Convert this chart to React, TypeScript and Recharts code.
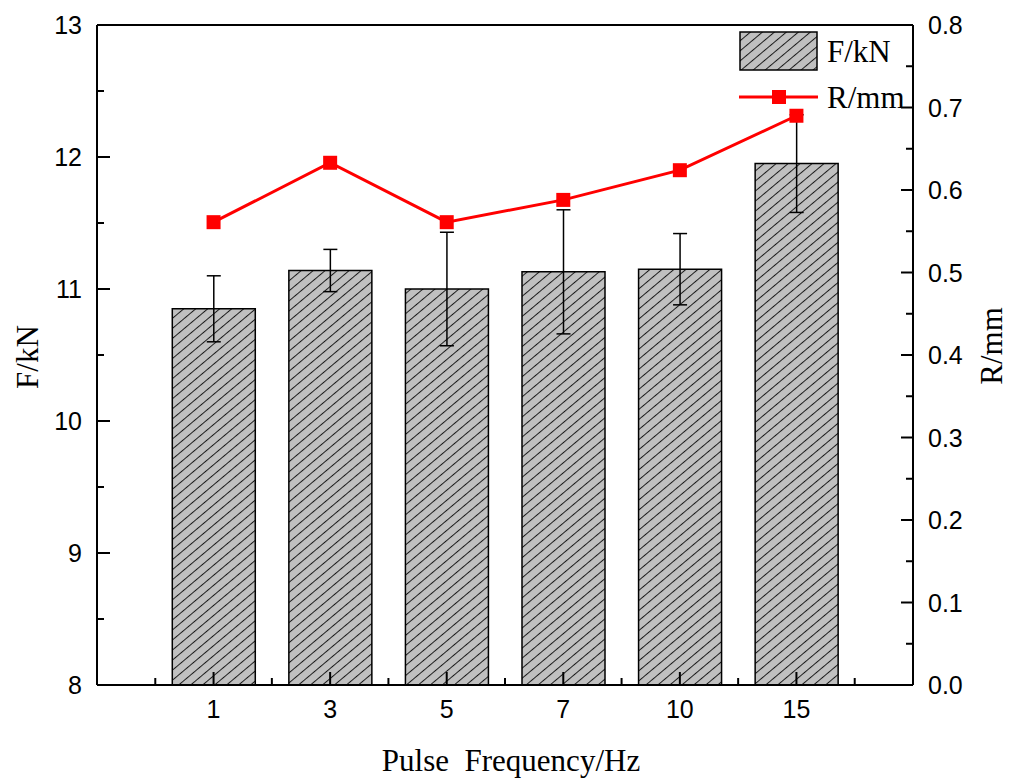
import React from "react"
import {
  ComposedChart,
  Bar,
  Line,
  XAxis,
  YAxis,
  ErrorBar,
  ReferenceLine,
  Legend,
  Label,
} from "recharts"

// pulse frequency categories (Hz) and measured values
const FREQ = ["1", "3", "5", "7", "10", "15"]
const FORCE = [10.85, 11.14, 11.0, 11.13, 11.15, 11.95]
const FORCE_ERR = [0.25, 0.16, 0.43, 0.47, 0.27, 0.37]
const RADIUS = [0.561, 0.633, 0.561, 0.588, 0.624, 0.69]

const X_TICKS = [0.5, 1, 1.5, 2, 2.5, 3, 3.5, 4, 4.5, 5, 5.5, 6, 6.5]
const F_TICKS = [8, 8.5, 9, 9.5, 10, 10.5, 11, 11.5, 12, 12.5, 13]
const R_TICKS = [0, 0.05, 0.1, 0.15, 0.2, 0.25, 0.3, 0.35, 0.4, 0.45, 0.5, 0.55, 0.6, 0.65, 0.7, 0.75, 0.8]

const data = FREQ.map((f, i) => ({
  pos: i + 1,
  freq: f,
  f: FORCE[i],
  fErr: FORCE_ERR[i],
  r: RADIUS[i],
}))

const SANS = "'Liberation Sans', Arial, sans-serif"
const SERIF = "'Liberation Serif', 'Times New Roman', serif"
const TICK_FONT = 25
const TITLE_FONT = 31
const MARGIN = 15

const LeftTick = (props: any) => {
  const { x, y, payload } = props
  const v = payload.value as number
  const major = Number.isInteger(v)
  const ax = x + MARGIN
  return (
    <g>
      <line x1={ax} x2={ax + (major ? 13 : 7)} y1={y} y2={y} stroke="#000" strokeWidth={2} />
      {major && (
        <text x={x} y={y} textAnchor="end" dy="0.36em" fontFamily={SANS} fontSize={TICK_FONT} fill="#000">
          {v}
        </text>
      )}
    </g>
  )
}

const RightTick = (props: any) => {
  const { x, y, payload } = props
  const v = payload.value as number
  const major = Math.round(v * 100) % 10 === 0
  const ax = x - MARGIN
  return (
    <g>
      <line x1={ax} x2={ax - (major ? 12 : 7)} y1={y} y2={y} stroke="#000" strokeWidth={2} />
      {major && (
        <text x={x} y={y} textAnchor="start" dy="0.36em" fontFamily={SANS} fontSize={TICK_FONT} fill="#000">
          {v.toFixed(1)}
        </text>
      )}
    </g>
  )
}

const BottomTick = (props: any) => {
  const { x, y, payload } = props
  const v = payload.value as number
  const major = Number.isInteger(v)
  const ay = y - MARGIN
  return (
    <g>
      <line x1={x} x2={x} y1={ay} y2={ay - (major ? 13 : 7)} stroke="#000" strokeWidth={2} />
      {major && (
        <text x={x} y={y} textAnchor="middle" dy="0.72em" fontFamily={SANS} fontSize={TICK_FONT} fill="#000">
          {FREQ[v - 1]}
        </text>
      )}
    </g>
  )
}

const SquareDot = (props: any) => {
  const { cx, cy, index } = props
  return <rect key={`dot-${index}`} x={cx - 7} y={cy - 7} width={14} height={14} fill="#ff0000" />
}

const renderLegend = () => (
  <div style={{ fontFamily: SERIF, fontSize: TITLE_FONT, color: "#000", lineHeight: 1 }}>
    <div style={{ display: "flex", alignItems: "center", height: 42 }}>
      <svg width={79} height={40}>
        <rect x={1} y={1} width={77} height={38} fill="url(#hatch)" stroke="#000" strokeWidth={1.5} />
      </svg>
      <span style={{ marginLeft: 9 }}>F/kN</span>
    </div>
    <div style={{ display: "flex", alignItems: "center", height: 50 }}>
      <svg width={79} height={20}>
        <line x1={0} x2={79} y1={10} y2={10} stroke="#ff0000" strokeWidth={3} />
        <rect x={33} y={3} width={14} height={14} fill="#ff0000" />
      </svg>
      <span style={{ marginLeft: 9 }}>R/mm</span>
    </div>
  </div>
)

export default function App() {
  return (
    <div style={{ position: "absolute", left: 0, top: 0, background: "#fff" }}>
      <ComposedChart
        width={1009}
        height={778}
        data={data}
        margin={{ top: 25, right: 16, bottom: 0, left: 17 }}
      >
        <defs>
          <pattern id="hatch" width="7.7" height="7.7" patternUnits="userSpaceOnUse" patternTransform="rotate(50)">
            <rect width="7.7" height="7.7" fill="#c0c0c0" />
            <line x1="0.5" y1="0" x2="0.5" y2="7.7" stroke="#1a1a1a" strokeWidth="1" />
          </pattern>
        </defs>
        <XAxis
          dataKey="pos"
          type="number"
          domain={[0, 7]}
          ticks={X_TICKS}
          interval={0}
          height={93}
          tickSize={0}
          tickMargin={MARGIN}
          tick={<BottomTick />}
          axisLine={{ stroke: "#000", strokeWidth: 2 }}
        >
          <Label
            content={(p: any) => {
              const vb = p.viewBox
              return (
                <text
                  x={vb.x + vb.width / 2 + 6}
                  y={vb.y + 86}
                  textAnchor="middle"
                  fontFamily={SERIF}
                  fontSize={TITLE_FONT}
                  fill="#000"
                  style={{ whiteSpace: "pre" }}
                >
                  Pulse  Frequency/Hz
                </text>
              )
            }}
          />
        </XAxis>
        <YAxis
          yAxisId="f"
          orientation="left"
          width={80}
          domain={[8, 13]}
          ticks={F_TICKS}
          interval={0}
          allowDataOverflow
          tickSize={0}
          tickMargin={MARGIN}
          tick={<LeftTick />}
          axisLine={{ stroke: "#000", strokeWidth: 2 }}
        >
          <Label
            content={(p: any) => {
              const vb = p.viewBox
              const cx = vb.x + 10
              const cy = vb.y + vb.height / 2 + 2
              return (
                <text
                  x={cx}
                  y={cy}
                  textAnchor="middle"
                  dy="0.35em"
                  transform={`rotate(-90 ${cx} ${cy})`}
                  fontFamily={SERIF}
                  fontSize={TITLE_FONT}
                  fill="#000"
                >
                  F/kN
                </text>
              )
            }}
          />
        </YAxis>
        <YAxis
          yAxisId="r"
          orientation="right"
          width={80}
          domain={[0, 0.8]}
          ticks={R_TICKS}
          interval={0}
          allowDataOverflow
          tickSize={0}
          tickMargin={MARGIN}
          tick={<RightTick />}
          axisLine={{ stroke: "#000", strokeWidth: 2 }}
        >
          <Label
            content={(p: any) => {
              const vb = p.viewBox
              const cx = vb.x + vb.width - 2
              const cy = vb.y + vb.height / 2 - 9
              return (
                <text
                  x={cx}
                  y={cy}
                  textAnchor="middle"
                  dy="0.35em"
                  transform={`rotate(-90 ${cx} ${cy})`}
                  fontFamily={SERIF}
                  fontSize={TITLE_FONT}
                  fill="#000"
                >
                  R/mm
                </text>
              )
            }}
          />
        </YAxis>
        <ReferenceLine yAxisId="f" y={13} stroke="#000" strokeWidth={2} />
        <Bar
          yAxisId="f"
          dataKey="f"
          barSize={83}
          fill="url(#hatch)"
          stroke="#000"
          strokeWidth={1.5}
          isAnimationActive={false}
        >
          <ErrorBar dataKey="fErr" direction="y" width={7} stroke="#000" strokeWidth={1.5} />
        </Bar>
        <Line
          yAxisId="r"
          dataKey="r"
          stroke="#ff0000"
          strokeWidth={3}
          dot={<SquareDot />}
          activeDot={false}
          isAnimationActive={false}
        />
        <Legend
          layout="horizontal"
          verticalAlign="middle"
          align="center"
          content={renderLegend}
          wrapperStyle={{ top: 30, left: 739, width: "auto" }}
        />
      </ComposedChart>
    </div>
  )
}
